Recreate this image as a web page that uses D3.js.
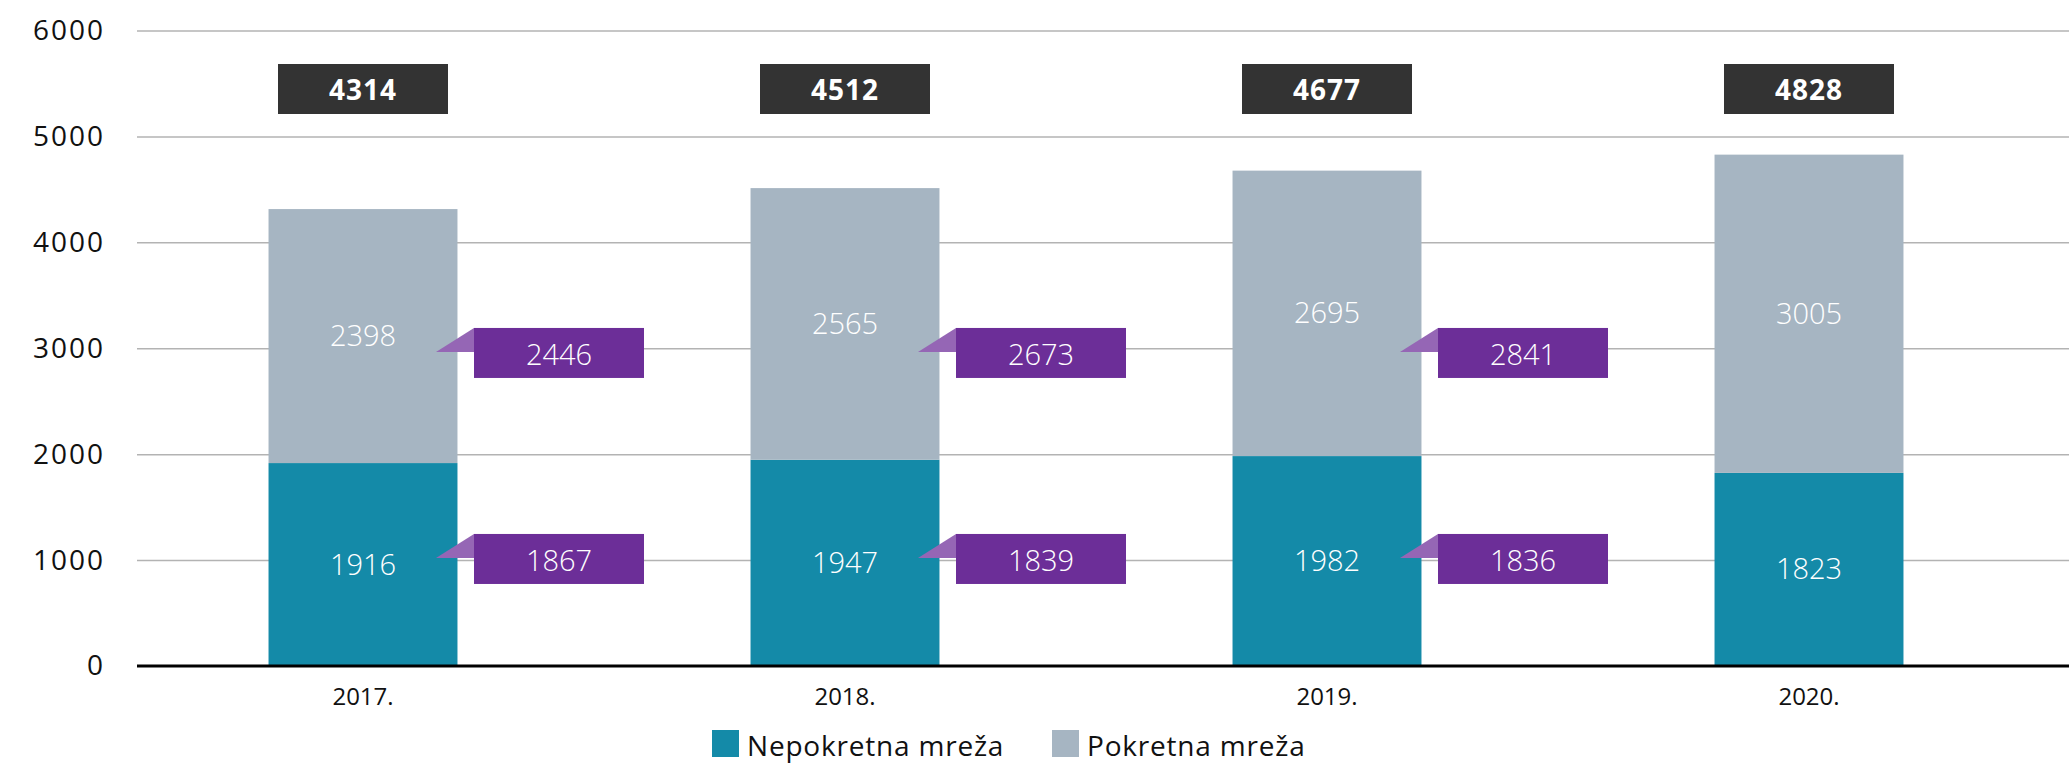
<!DOCTYPE html>
<html>
<head>
<meta charset="utf-8">
<script src="https://cdn.jsdelivr.net/npm/d3@7"></script>
<style>
  body { margin: 0; background: #fff; }
  text { font-family: "Open Sans", sans-serif; }
</style>
</head>
<body>
<div id="chart"></div>
<script>
(function() {
  // data
  var years = ["2017.", "2018.", "2019.", "2020."]
  var nepokretna = [1916, 1947, 1982, 1823]
  var pokretna = [2398, 2565, 2695, 3005]
  var totals = [4314, 4512, 4677, 4828]
  // purple callouts, only for the first three years
  var calloutYears = ["2017.", "2018.", "2019."]
  var calloutPokretna = [2446, 2673, 2841]
  var calloutNepokretna = [1867, 1839, 1836]
  var yTicks = [0, 1000, 2000, 3000, 4000, 5000, 6000]
  var seriesNames = ["Nepokretna mreža", "Pokretna mreža"]

  var width = 2069, height = 764
  var colors = { nep: "#148aa8", pok: "#a6b5c2", total: "#333333", purple: "#6c2e98", purpleLight: "#9566b5" }

  var svg = d3.select("#chart")
    .append("svg")
    .attr("width", width)
    .attr("height", height)

  var xPositionScale = d3.scaleBand()
    .domain(years)
    .range([122, 2050])
    .paddingInner(0.608)
    .paddingOuter(0.304)

  var yPositionScale = d3.scaleLinear()
    .domain([0, 6000])
    .range([666, 30.5])

  // y axis with gridlines
  var gridLeft = 137
  var yAxis = d3.axisLeft(yPositionScale)
    .tickValues(yTicks)
    .tickSize(-(width - gridLeft))
    .tickPadding(32)
    .tickFormat(d3.format("d"))

  var yG = svg.append("g")
    .attr("class", "axis y-axis")
    .attr("transform", "translate(" + gridLeft + ",0)")
    .call(yAxis)
  yG.select(".domain").remove()
  yG.selectAll(".tick line")
    .attr("stroke", "#b3b3b3")
    .attr("stroke-width", 1.5)
  yG.selectAll(".tick text")
    .attr("font-size", 28)
    .attr("letter-spacing", 2)
    .attr("fill", "#111")
    .attr("font-family", "Open Sans, sans-serif")
  // zero line gets drawn over the bars later
  yG.selectAll(".tick").filter(function(d) { return d === 0 }).select("line").remove()

  var bw = xPositionScale.bandwidth()

  // stacked bars
  var stackData = years.map(function(y, i) {
    return { year: y, nep: nepokretna[i], pok: pokretna[i], total: totals[i] }
  })

  svg.selectAll(".bar-nep")
    .data(stackData)
    .enter().append("rect")
    .attr("class", "bar-nep")
    .attr("x", function(d) { return xPositionScale(d.year) })
    .attr("width", bw)
    .attr("y", function(d) { return yPositionScale(d.nep) })
    .attr("height", function(d) { return yPositionScale(0) - yPositionScale(d.nep) })
    .attr("fill", colors.nep)

  svg.selectAll(".bar-pok")
    .data(stackData)
    .enter().append("rect")
    .attr("class", "bar-pok")
    .attr("x", function(d) { return xPositionScale(d.year) })
    .attr("width", bw)
    .attr("y", function(d) { return yPositionScale(d.nep + d.pok) })
    .attr("height", function(d) { return yPositionScale(d.nep) - yPositionScale(d.nep + d.pok) })
    .attr("fill", colors.pok)

  // zero line
  svg.append("line")
    .attr("x1", gridLeft).attr("x2", width)
    .attr("y1", yPositionScale(0)).attr("y2", yPositionScale(0))
    .attr("stroke", "#000")
    .attr("stroke-width", 3)

  // labels inside segments
  svg.selectAll(".lbl-nep")
    .data(stackData)
    .enter().append("text")
    .attr("class", "lbl-nep")
    .attr("x", function(d) { return xPositionScale(d.year) + bw / 2 })
    .attr("y", function(d) { return yPositionScale(d.nep / 2) + 10 })
    .attr("text-anchor", "middle")
    .attr("font-size", 29)
    .attr("font-weight", 300)
    .attr("fill", "#fff")
    .text(function(d) { return d.nep })

  svg.selectAll(".lbl-pok")
    .data(stackData)
    .enter().append("text")
    .attr("class", "lbl-pok")
    .attr("x", function(d) { return xPositionScale(d.year) + bw / 2 })
    .attr("y", function(d) { return yPositionScale(d.nep + d.pok / 2) + 10 })
    .attr("text-anchor", "middle")
    .attr("font-size", 29)
    .attr("font-weight", 300)
    .attr("fill", "#fff")
    .text(function(d) { return d.pok })

  // dark total boxes at the top
  var boxW = 170, boxH = 50
  var totalG = svg.selectAll(".total")
    .data(stackData)
    .enter().append("g")
    .attr("class", "total")
    .attr("transform", function(d) {
      return "translate(" + (xPositionScale(d.year) + bw / 2) + ",64)"
    })
  totalG.append("rect")
    .attr("x", -boxW / 2)
    .attr("width", boxW)
    .attr("height", boxH)
    .attr("fill", colors.total)
  totalG.append("text")
    .attr("y", 36)
    .attr("text-anchor", "middle")
    .attr("font-size", 28)
    .attr("font-weight", 700)
    .attr("letter-spacing", 1)
    .attr("fill", "#fff")
    .text(function(d) { return d.total })

  // purple callouts to the right of the bars
  function drawCallouts(values, tipValue, cls) {
    var g = svg.selectAll("." + cls)
      .data(values)
      .enter().append("g")
      .attr("class", cls)
      .attr("transform", function(d, i) {
        var cx = xPositionScale(calloutYears[i]) + bw / 2 + 196
        return "translate(" + (cx - boxW / 2) + "," + (yPositionScale(tipValue) - 24) + ")"
      })
    g.append("path")
      .attr("d", "M0,0 L0,24 L-38,24 Z")
      .attr("fill", colors.purpleLight)
    g.append("rect")
      .attr("width", boxW)
      .attr("height", boxH)
      .attr("fill", colors.purple)
    g.append("text")
      .attr("x", boxW / 2)
      .attr("y", 37)
      .attr("text-anchor", "middle")
      .attr("font-size", 29)
      .attr("font-weight", 300)
      .attr("fill", "#fff")
      .text(function(d) { return d })
  }
  drawCallouts(calloutPokretna, 2965, "callout-pok")
  drawCallouts(calloutNepokretna, 1020, "callout-nep")

  // x axis labels
  var xAxis = d3.axisBottom(xPositionScale).tickSize(0).tickPadding(22)
  var xG = svg.append("g")
    .attr("class", "axis x-axis")
    .attr("transform", "translate(0," + yPositionScale(0) + ")")
    .call(xAxis)
  xG.select(".domain").remove()
  xG.selectAll(".tick text")
    .attr("font-size", 24)
    .attr("fill", "#111")
    .attr("font-family", "Open Sans, sans-serif")

  // legend
  var legendX = [712, 1052]
  var legendColors = [colors.nep, colors.pok]
  var legend = svg.selectAll(".legend")
    .data(seriesNames)
    .enter().append("g")
    .attr("class", "legend")
    .attr("transform", function(d, i) { return "translate(" + legendX[i] + ",730)" })
  legend.append("rect")
    .attr("width", 27)
    .attr("height", 27)
    .attr("fill", function(d, i) { return legendColors[i] })
  legend.append("text")
    .attr("x", 35)
    .attr("y", 26)
    .attr("font-size", 28)
    .attr("letter-spacing", 0.8)
    .attr("fill", "#111")
    .text(function(d) { return d })
})();
</script>
</body>
</html>
